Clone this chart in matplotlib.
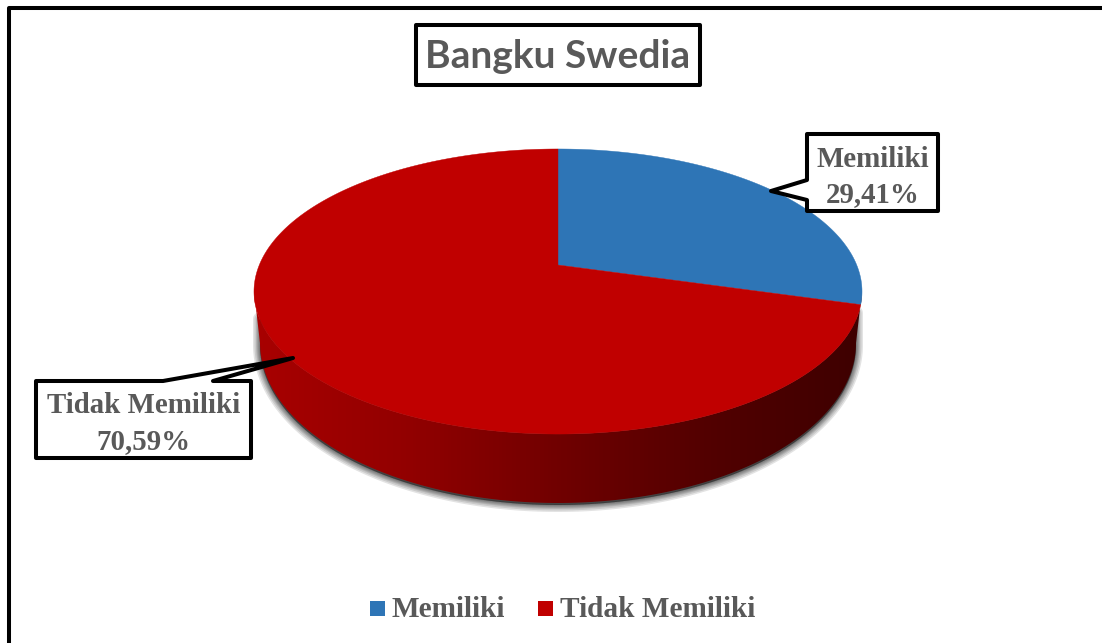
import numpy as np
import matplotlib
matplotlib.use("Agg")
import matplotlib.pyplot as plt
from matplotlib.colors import LinearSegmentedColormap
from matplotlib.patches import Polygon, Rectangle

# data
title = "Bangku Swedia"
categories = ["Memiliki", "Tidak Memiliki"]
values = [29.41, 70.59]
value_labels = ["29,41%", "70,59%"]
colors = ["#2e75b6", "#c00000"]

# pie geometry in pixels (apex of the slices, perspective of the disc)
CX, CY = 558, 265
A, B, K = 298.7, 137.6, 0.186
# lower edge of the wall is a plain ellipse
LOW_A, LOW_B, LOW_Y = 298, 160, 343

GREY = "#595959"
SERIF = "Liberation Serif"
CALLOUT_SIZE = 20.8


def rim(angle):
    """Project points of the unit circle, angle clockwise from the top (radians)."""
    x, y = np.sin(angle), np.cos(angle)
    w = 1 + K * y
    return CX + A * x / w, CY - B * y / w


def callout(ax, points, lines, xc, yc):
    ax.add_patch(Polygon(points, closed=True, facecolor="white", edgecolor="black",
                         linewidth=2.9, joinstyle="round", zorder=6))
    for line, y in zip(lines, yc):
        ax.text(xc, y, line, ha="center", va="baseline", family=SERIF,
                fontweight="bold", fontsize=CALLOUT_SIZE, color=GREY, zorder=7)


fig = plt.figure(figsize=(11.02, 6.43), dpi=100, facecolor="white")
ax = fig.add_axes([0, 0, 1, 1])
ax.axis("off")

# outer frame, runs off the right and bottom of the picture
ax.plot([9, 9, 1110], [650, 8, 8], color="black", linewidth=2.9, solid_joinstyle="round", zorder=1)

# side wall between the top rim and the lower edge, front part only
t = np.linspace(0, 2 * np.pi, 721)
top_x, top_y = rim(t)
i_right, i_left = np.argmax(top_x), np.argmin(top_x)
front = np.linspace(t[i_right], t[i_left], 360)
fx, fy = rim(front)
low = np.linspace(np.pi / 2, 3 * np.pi / 2, 360)
bx = CX + LOW_A * np.sin(low)
by = LOW_Y - LOW_B * np.cos(low)
side = np.column_stack([np.r_[fx, bx[::-1]], np.r_[fy, by[::-1]]])

# soft shadow under the wall, starts a little below the top rim
shadow = np.column_stack([np.r_[bx[0], bx, bx[-1]], np.r_[fy[0] + 20, by, fy[-1] + 26]])
for lw in [14, 11, 8, 6, 4, 2]:
    ax.add_patch(Polygon(shadow + [0, 2], closed=True, facecolor="black", edgecolor="black",
                         linewidth=lw * 0.72, alpha=0.11, joinstyle="round", zorder=2))

wall = LinearSegmentedColormap.from_list(
    "wall", [(0, "#a80000"), (0.25, "#920000"), (0.55, "#6a0000"), (0.75, "#520000"), (1, "#3e0000")])
img = ax.imshow(np.linspace(0, 1, 300)[None, :], cmap=wall, aspect="auto", zorder=3,
                extent=[fx.min(), fx.max(), by.max(), fy.min()])
img.set_clip_path(Polygon(side, closed=True, transform=ax.transData))

# slices, clockwise from the top
edges = np.r_[0, np.cumsum(values)] / np.sum(values) * 2 * np.pi
for start, stop, color in zip(edges[:-1], edges[1:], colors):
    sx, sy = rim(np.linspace(start, stop, 400))
    ax.fill(np.r_[CX, sx], np.r_[CY, sy], color=color, linewidth=0.3, zorder=4)

# title box
ax.add_patch(Rectangle((415.5, 24.5), 284, 60, facecolor="white", edgecolor="black",
                       linewidth=2.9, joinstyle="round", zorder=6))
ax.text(557.5, 68, title, ha="center", va="baseline", family="Lato", fontweight="bold",
        fontsize=28, color=GREY, zorder=7)

# data callouts
callout(ax, [(807, 134), (938, 134), (938, 211), (807, 211), (807, 200), (771, 191), (807, 180)],
        [categories[0], value_labels[0]], 873, [167, 202])
callout(ax, [(36, 381), (163, 381), (293, 358), (213, 381), (251, 381), (251, 458), (36, 458)],
        [categories[1], value_labels[1]], 143.5, [413, 449])

# legend
for x0, color in zip([370, 538], colors):
    ax.add_patch(Rectangle((x0, 601), 15, 15, facecolor=color, edgecolor="none", zorder=5))
for x0, label in zip([391, 560], categories):
    ax.text(x0, 617, label, ha="left", va="baseline", family=SERIF, fontweight="bold",
            fontsize=21.1, color=GREY, zorder=5)

ax.set_xlim(0, 1102)
ax.set_ylim(643, 0)

fig.savefig("out.png", dpi=100)
